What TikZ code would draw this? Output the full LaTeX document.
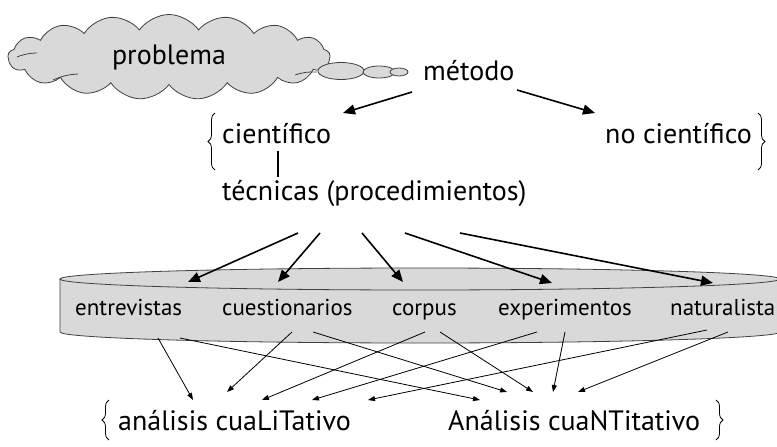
\documentclass[tikz,border=0pt]{standalone}
\usepackage{fontspec}
\setmainfont{PT Sans}
\usetikzlibrary{shapes.symbols,shapes.geometric,arrows.meta,decorations.pathreplacing}

\begin{document}
\begin{tikzpicture}[x=1pt,y=-1pt,
    txt/.style={anchor=base west,inner sep=0pt,font=\fontsize{28}{32}\selectfont},
    item/.style={anchor=base west,inner sep=0pt,font=\fontsize{23}{26}\selectfont},
    bigarrow/.style={line width=1.6pt,-{Triangle[length=12pt,width=10pt]}},
    thinarrow/.style={line width=0.8pt,-{Triangle[length=7pt,width=5pt]}},
    brc/.style={decorate,decoration={brace,amplitude=7pt},line width=0.8pt},
    grey/.style={draw=black!75,fill=black!15,line width=0.8pt},
    puff/.style={grey,ellipse,inner sep=0pt}]
  \useasboundingbox (0,0) rectangle (777,447);
  % thought cloud
  \node[grey,cloud,cloud puffs=17,cloud puff arc=110,cloud ignores aspect,minimum width=322pt,
        minimum height=85pt,inner sep=0pt,font=\fontsize{28}{32}\selectfont]
        (prob) at (169,57) {problema};
  \draw[black!75,line width=0.8pt] (17,57) to[bend left=10] (37,53);
  \draw[black!75,line width=0.8pt] (53,80) to[bend left=10] (78,74);
  \draw[black!75,line width=0.8pt] (295,75) to[bend left=10] (317,72);
  \node[puff,minimum width=46pt,minimum height=17pt] (p1) at (341,71) {};
  \node[puff,minimum width=32pt,minimum height=12pt] (p2) at (379,72) {};
  \node[puff,minimum width=18pt,minimum height=8pt] (p3) at (399,72) {};
  % the disc
  \filldraw[grey] (60,279) -- (60,332) arc[start angle=180,end angle=0,x radius=360,y radius=11]
      -- (780,279) -- cycle;
  \filldraw[grey] (420,279) ellipse [x radius=360,y radius=11];
  % texts
  \node[txt] (metodo) at (423,80) {método};
  \node[txt] (cient) at (222,143) {científico};
  \node[txt,anchor=base east] (nocient) at (752,143) {no científico};
  \node[txt] (tec) at (222,200) {técnicas (procedimientos)};
  \node[item] (entre) at (75,315) {entrevistas};
  \node[item] (cuest) at (222,315) {cuestionarios};
  \node[item] (corpus) at (392,315) {corpus};
  \node[item] (exper) at (498,315) {experimentos};
  \node[item] (natur) at (670,315) {naturalista};
  \node[txt] (cuali) at (118,430) {análisis cuaLiTativo};
  \node[txt] (cuanti) at (448,430) {Análisis cuaNTitativo};
  % braces
  \draw[brc] (215,170) -- (215,113);
  \draw[brc] (758,113) -- (758,170);
  \draw[brc] (109,440) -- (109,400);
  \draw[brc] (716,400) -- (716,440);
  % method
  \draw[bigarrow] ([shift={(-11,12)}]metodo.base west) -- ([shift={(121,-30)}]cient.base west);
  \draw[bigarrow] ([shift={(94,10)}]metodo.base west) -- ([shift={(-157,-30)}]nocient.base east);
  \draw[line width=1.6pt] ([shift={(56,8)}]cient.base west) -- ([shift={(56,-23)}]tec.base west);
  % techniques
  \draw[bigarrow] ([shift={(76,33)}]tec.base west) -- ([shift={(113,-33)}]entre.base west);
  \draw[bigarrow] ([shift={(98,33)}]tec.base west) -- ([shift={(56,-33)}]cuest.base west);
  \draw[bigarrow] ([shift={(140,33)}]tec.base west) -- ([shift={(11,-33)}]corpus.base west);
  \draw[bigarrow] ([shift={(183,33)}]tec.base west) -- ([shift={(54,-32)}]exper.base west);
  \draw[bigarrow] ([shift={(238,33)}]tec.base west) -- ([shift={(43,-32)}]natur.base west);
  % analysis
  \draw[thinarrow] ([shift={(83,23)}]entre.base west) -- ([shift={(75,-30)}]cuali.base west);
  \draw[thinarrow] ([shift={(105,23)}]entre.base west) -- ([shift={(32,-30)}]cuanti.base west);
  \draw[thinarrow] ([shift={(70,17)}]cuest.base west) -- ([shift={(109,-38)}]cuali.base west);
  \draw[thinarrow] ([shift={(91,17)}]cuest.base west) -- ([shift={(59,-38)}]cuanti.base west);
  \draw[thinarrow] ([shift={(33,17)}]corpus.base west) -- ([shift={(144,-30)}]cuali.base west);
  \draw[thinarrow] ([shift={(48,17)}]corpus.base west) -- ([shift={(85,-38)}]cuanti.base west);
  \draw[thinarrow] ([shift={(39,17)}]exper.base west) -- ([shift={(194,-30)}]cuali.base west);
  \draw[thinarrow] ([shift={(67,17)}]exper.base west) -- ([shift={(105,-38)}]cuanti.base west);
  \draw[thinarrow] ([shift={(37,15)}]natur.base west) -- ([shift={(250,-30)}]cuali.base west);
  \draw[thinarrow] ([shift={(58,17)}]natur.base west) -- ([shift={(130,-38)}]cuanti.base west);
\end{tikzpicture}
\end{document}
